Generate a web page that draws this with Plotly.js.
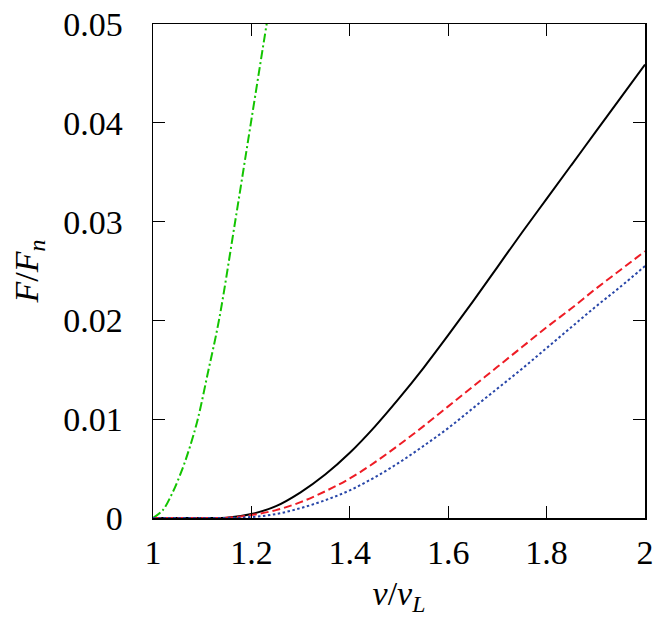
<!DOCTYPE html>
<html>
<head>
<meta charset="utf-8">
<script src="https://cdn.plot.ly/plotly-3.0.1.min.js"></script>
<style>
  body { margin: 0; background: #fff; }
  #chart { width: 663px; height: 617px; }
</style>
</head>
<body>
<div id="chart"></div>
<script>
// curves, x = v/vL, y = F/Fn
const greenX = [1.0, 1.02, 1.04, 1.06, 1.075, 1.091, 1.112, 1.134, 1.167, 1.199, 1.231, 1.24];
const greenY = [0, 0.0008, 0.0026, 0.0050, 0.0072, 0.0100, 0.0148, 0.0200, 0.0300, 0.0400, 0.0500, 0.0528];

const blackX = [1.0, 1.1, 1.15, 1.2, 1.25, 1.3, 1.35, 1.4, 1.45, 1.5, 1.55, 1.6, 1.65, 1.7, 1.75, 1.8, 1.85, 1.9, 1.95, 2.0];
const blackY = [0, 0, 0.00003, 0.0004, 0.0012, 0.0026, 0.0044, 0.0066, 0.0092, 0.0121, 0.0152, 0.0185, 0.0219, 0.0254, 0.0289, 0.0323, 0.0357, 0.0391, 0.0425, 0.0459];

const redX = [1.0, 1.1, 1.15, 1.2, 1.25, 1.3, 1.35, 1.4, 1.45, 1.5, 1.55, 1.6, 1.65, 1.7, 1.75, 1.8, 1.85, 1.9, 1.95, 2.0];
const redY = [0, 0, 0.00002, 0.0003, 0.0008, 0.0016, 0.0027, 0.0040, 0.0056, 0.0074, 0.0093, 0.0113, 0.0133, 0.0153, 0.0173, 0.0193, 0.0212, 0.0232, 0.0251, 0.0270];

const blueX = [1.0, 1.1, 1.15, 1.2, 1.25, 1.3, 1.35, 1.4, 1.45, 1.5, 1.55, 1.6, 1.65, 1.7, 1.75, 1.8, 1.85, 1.9, 1.95, 2.0];
const blueY = [0, 0, 0.00001, 0.0001, 0.0004, 0.0010, 0.0018, 0.0028, 0.0041, 0.0056, 0.0073, 0.0091, 0.0111, 0.0131, 0.0151, 0.0172, 0.0193, 0.0214, 0.0234, 0.0255];

const xTicks = [1, 1.2, 1.4, 1.6, 1.8, 2];
const xTickText = ['1', '1.2', '1.4', '1.6', '1.8', '2'];
const yTicks = [0, 0.01, 0.02, 0.03, 0.04, 0.05];
const yTickText = ['0', '0.01', '0.02', '0.03', '0.04', '0.05'];

const fontFam = "'Liberation Serif', 'DejaVu Serif', serif";

let data = [
    {
        x: greenX, y: greenY, mode: 'lines', type: 'scatter',
        line: {color: '#13c400', width: 2, dash: '9px,3px,2px,3px', shape: 'spline'}
    },
    {
        x: blackX, y: blackY, mode: 'lines', type: 'scatter',
        line: {color: '#000000', width: 2, shape: 'spline'}
    },
    {
        x: redX, y: redY, mode: 'lines', type: 'scatter',
        line: {color: '#ee1c25', width: 2, dash: '8px,4px', shape: 'spline'}
    },
    {
        x: blueX, y: blueY, mode: 'lines', type: 'scatter',
        line: {color: '#2846a8', width: 2, dash: '2.5px,2.5px', shape: 'spline'}
    }
];

let layout = {
    width: 663,
    height: 617,
    showlegend: false,
    paper_bgcolor: '#ffffff',
    plot_bgcolor: '#ffffff',
    margin: {l: 153, r: 18, t: 24, b: 99},
    font: {family: fontFam, size: 34, color: '#000'},
    xaxis: {
        range: [1, 2],
        tickvals: xTicks,
        ticktext: xTickText,
        ticks: 'inside',
        ticklen: 12,
        tickcolor: '#000',
        tickwidth: 1,
        showline: true,
        linecolor: '#000',
        linewidth: 1.5,
        mirror: 'ticks',
        showgrid: false,
        zeroline: false,
        ticklabelstandoff: 4,
        title: {text: '<i>v</i>/<i>v</i><sub><i>L</i></sub>', standoff: 12, font: {size: 34}}
    },
    yaxis: {
        range: [0, 0.05],
        tickvals: yTicks,
        ticktext: yTickText,
        ticks: 'inside',
        ticklen: 12,
        tickcolor: '#000',
        tickwidth: 1,
        showline: true,
        linecolor: '#000',
        linewidth: 1.5,
        mirror: 'ticks',
        showgrid: false,
        zeroline: false,
        ticklabelstandoff: 22,
        title: {text: '<i>F</i>/<i>F</i><sub><i>n</i></sub>', standoff: 14, font: {size: 34}}
    }
};

Plotly.newPlot('chart', data, layout, {staticPlot: true});
</script>
</body>
</html>
